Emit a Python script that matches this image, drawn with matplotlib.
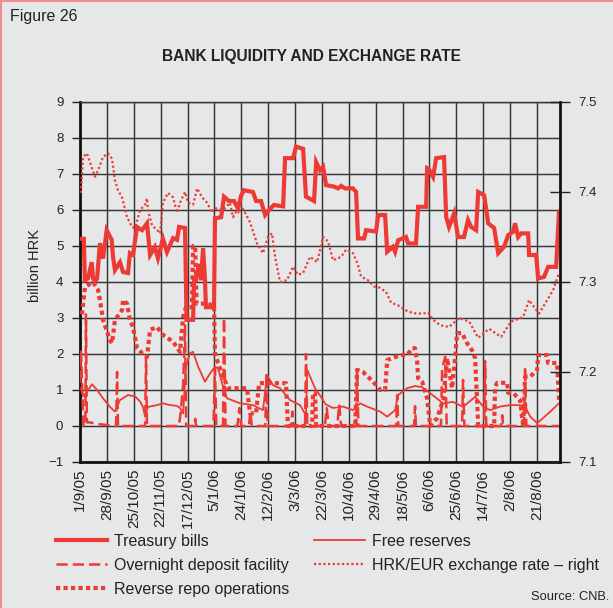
import matplotlib
matplotlib.use("Agg")
import matplotlib.pyplot as plt
from matplotlib.lines import Line2D

plt.rcParams['font.family'] = ['Liberation Sans', 'DejaVu Sans']

# ---------------- data (x = business-day index from 1/9/05) ----------------
tick_labels = ['1/9/05', '28/9/05', '25/10/05', '22/11/05', '17/12/05', '5/1/06',
               '24/1/06', '12/2/06', '3/3/06', '22/3/06', '10/4/06', '29/4/06',
               '18/5/06', '6/6/06', '25/6/06', '14/7/06', '2/8/06', '21/8/06']
tick_step = 14
n_days = 250

tb_x = [0, 2, 2.5, 4.2, 6.1, 6.8, 7.8, 8.9, 10.4, 12,
        13.9, 16.5, 17.2, 18.2, 20.8, 22.4, 25, 26, 27.6, 29.7,
        32.3, 34.9, 36.5, 39, 40.6, 43.2, 45.3, 48.5, 50.5, 51.6,
        54.7, 55.5, 58.9, 59.4, 60.4, 62, 63, 64.1, 65.1, 65.6,
        69.8, 70.3, 73.5, 75, 77.6, 80.2, 82.3, 83.9, 85.4, 90.1,
        91.7, 94.3, 96.4, 98.5, 101, 105.8, 106.8, 111, 112.5, 116.2,
        117.7, 121.9, 123, 125, 126.6, 128.2, 132.3, 134.4, 136, 138,
        142.2, 143.8, 144.8, 148, 149, 154.2, 155.3, 158.9, 160, 163,
        164.1, 165.7, 169.8, 170.9, 175, 176.1, 180.3, 180.8, 181.8, 183.9,
        185.5, 189.6, 190.7, 192.2, 194.9, 196.9, 200, 202.1, 203.7, 206.3,
        207.4, 210.5, 212.6, 215.7, 217.8, 220.9, 223, 225.6, 226.6, 228.2,
        229.8, 233.4, 233.9, 237.6, 238.6, 241.7, 243.8, 248, 249.5]
tb_y = [5.2, 5.2, 4.05, 4.1, 4.55, 4.1, 4.0, 4.1, 5.08, 4.65,
        5.44, 5.17, 4.7, 4.33, 4.55, 4.28, 4.25, 4.8, 4.75, 5.53,
        5.44, 5.63, 4.75, 4.97, 4.66, 5.2, 4.83, 5.22, 5.17, 5.53,
        5.5, 2.95, 2.95, 4.05, 4.1, 4.5, 4.05, 4.94, 4.05, 3.3,
        3.3, 5.77, 5.8, 6.37, 6.25, 6.25, 6.04, 6.4, 6.55, 6.5,
        6.25, 6.25, 5.86, 6.0, 6.14, 6.1, 7.44, 7.44, 7.76, 7.7,
        6.37, 6.25, 7.33, 7.1, 7.2, 6.69, 6.65, 6.6, 6.67, 6.6,
        6.6, 6.5, 5.21, 5.21, 5.44, 5.4, 5.86, 5.86, 4.84, 4.98,
        4.84, 5.16, 5.25, 5.07, 5.07, 6.09, 6.09, 7.16, 7.13, 6.92,
        7.44, 7.47, 5.81, 5.53, 5.91, 5.25, 5.25, 5.72, 5.53, 5.44,
        6.5, 6.41, 5.63, 5.5, 4.8, 4.98, 5.3, 5.4, 5.63, 5.25,
        5.35, 5.35, 4.75, 4.75, 4.1, 4.14, 4.42, 4.42, 5.95]

fr_x = [0.5, 1.6, 3.6, 6.3, 8.9, 12, 15.6, 18.2, 20.8, 25,
        28.7, 31.3, 32.8, 33.9, 35.4, 40.1, 43.2, 46.9, 50.5, 52.1,
        53.7, 55.2, 57.3, 58.9, 61.5, 65.1, 67.7, 70.3, 71.9, 74.5,
        76.6, 83.4, 90.1, 95.3, 97.4, 100.6, 104.2, 109.4, 114.6, 117.7,
        118.3, 122.4, 125, 128, 131.8, 137, 142.2, 145.9, 149.5, 156.3,
        160, 164.1, 165.7, 170.4, 174.5, 178.2, 182.4, 189.1, 194.3, 199.5,
        205.8, 210, 213.6, 218.8, 224, 229.2, 231.8, 234.5, 238.1, 241.2,
        244.9, 249.5]
fr_y = [1.05, 0.82, 0.95, 1.16, 1.0, 0.77, 0.53, 0.4, 0.72, 0.86,
        0.82, 0.68, 0.53, 0.26, 0.53, 0.58, 0.63, 0.58, 0.56, 0.5,
        0.35, 1.65, 2.02, 2.06, 1.65, 1.23, 1.46, 1.65, 1.6, 1.09,
        0.77, 0.63, 0.58, 0.44, 1.41, 1.13, 1.05, 0.72, 0.58, 0.3,
        1.56, 1.05, 0.85, 0.6, 0.5, 0.54, 0.44, 0.63, 0.54, 0.4,
        0.26, 0.44, 0.86, 1.05, 1.11, 1.08, 0.91, 0.63, 0.67, 0.53,
        0.81, 0.54, 0.44, 0.54, 0.58, 0.58, 0.54, 0.26, 0.08, 0.22,
        0.4, 0.63]

od_x = [0, 0.5, 1.2, 1.8, 2.8, 3.1, 3.6, 5, 10, 18.8,
        19.3, 19.8, 33.9, 34.4, 34.9, 51.5, 52.5, 53.7, 54.7, 55.3,
        59.5, 60, 60.5, 69.5, 70.3, 71, 74.5, 75, 75.8, 82,
        83, 84, 88, 88.7, 89.5, 96.5, 97.1, 97.7, 110, 110.6,
        111.2, 117.2, 117.7, 118.4, 127.5, 128.5, 129.5, 134, 135, 136,
        143.8, 144.3, 145, 164.7, 165.2, 165.8, 174, 174.5, 175, 188,
        188.6, 190.2, 191, 199, 199.5, 200.2, 210.5, 211, 211.6, 219.4,
        219.9, 220.4, 231.3, 231.8, 232.5, 249.5]
od_y = [1.2, 2.1, 1.0, 0, 0, 3.1, 0.1, 0.1, 0.05, 0,
        1.5, 0, 0, 1.9, 0, 0, 0.4, 1.14, 2.8, 0,
        0, 0.2, 0, 0, 1.6, 0, 0, 3.0, 0, 0,
        0.5, 0, 0, 0.4, 0, 0, 1.47, 0, 0, 0.4,
        0, 0, 2.0, 0, 0, 0.5, 0, 0, 0.6, 0,
        0, 1.56, 0, 0, 0.86, 0, 0, 0.55, 0, 0,
        1.6, 1.92, 0, 0, 1.28, 0, 0, 1.8, 0, 0,
        0.3, 0, 0, 1.65, 0, 0]

rr_x = [1, 2.6, 6.8, 9.4, 10.4, 12, 15.6, 16.7, 18.2, 21.9,
        22.4, 24.5, 26, 27.6, 29.7, 32.3, 34.9, 36.5, 40.1, 43.2,
        48.5, 52.1, 53.7, 55.2, 58.3, 58.9, 60, 60.7, 65.1, 69.8,
        70.3, 72.9, 77.1, 87, 87.5, 88.6, 91.7, 93.3, 107.3, 108.3,
        120.9, 121.4, 122.4, 123, 143.3, 144.3, 147.4, 152.7, 156.3, 158.9,
        160, 162.6, 166.7, 170.4, 173, 174.5, 175.6, 176.1, 178.2, 180.8,
        182.4, 186, 189.1, 191.2, 193.8, 195.4, 196.4, 199, 201.6, 204.2,
        205.8, 206.8, 207.4, 215.7, 216.2, 217.3, 222.5, 223, 225.6, 229.2,
        230.8, 231.8, 234.5, 238.1, 238.6, 243.3, 243.8, 248.5, 249.5]
rr_y = [3.1, 3.86, 4.0, 3.78, 3.5, 2.94, 2.39, 2.3, 2.94, 3.22,
        3.5, 3.4, 2.94, 2.75, 2.17, 2.02, 1.92, 2.67, 2.75, 2.53,
        2.34, 2.06, 3.03, 3.3, 3.3, 5.0, 5.0, 3.4, 3.4, 3.35,
        2.0, 1.6, 1.05, 1.05, 0.8, 0.35, 0.35, 1.19, 1.19, 0,
        0, 0.92, 0.92, 0, 0, 1.56, 1.5, 1.23, 1.0, 1.0,
        1.83, 1.88, 1.97, 1.97, 2.16, 2.16, 1.78, 1.33, 1.23, 0.77,
        0, 0.22, 0.72, 1.88, 1.05, 1.9, 2.58, 2.58, 2.3, 2.1,
        1.88, 0.72, 0, 0, 1.09, 1.2, 1.2, 0.92, 0.92, 0.72,
        0, 1.37, 1.37, 1.56, 1.97, 1.97, 1.75, 1.75, 0.72]

eur_x = [0.4, 1.6, 3.6, 5.7, 7.8, 9.4, 12, 14.6, 16.7, 18.2,
         19.8, 21.9, 24.5, 27.1, 28.7, 31.3, 33.9, 34.9, 35.4, 37.5,
         40.1, 41.7, 43.2, 45.8, 48.5, 50.5, 52.1, 54.7, 56.3, 58.9,
         61, 63.6, 66.2, 68.8, 70.3, 74.5, 78.1, 79.7, 83.4, 86,
         88.6, 92.2, 95.3, 97.9, 100, 101.6, 104.2, 107.8, 111, 113.6,
         116.2, 119.8, 123.5, 126.6, 129.2, 131.8, 136, 138.6, 142.2, 144.8,
         146.4, 150, 153.2, 155.8, 159.4, 162, 165.7, 168.8, 170.9, 175,
         178.7, 181.3, 183.9, 187.6, 192.2, 197.5, 202.7, 207.4, 213.1, 219.3,
         224.5, 230.8, 233.9, 237.6, 239.1, 242.8, 246.4, 249.6]
eur_y = [7.399, 7.439, 7.443, 7.43, 7.417, 7.424, 7.439, 7.443, 7.437, 7.413,
         7.402, 7.394, 7.372, 7.361, 7.36, 7.38, 7.386, 7.393, 7.38, 7.363,
         7.358, 7.354, 7.388, 7.399, 7.394, 7.377, 7.388, 7.4, 7.388, 7.386,
         7.404, 7.394, 7.388, 7.377, 7.382, 7.38, 7.388, 7.372, 7.386, 7.377,
         7.366, 7.343, 7.332, 7.35, 7.354, 7.328, 7.3, 7.302, 7.317, 7.308,
         7.31, 7.328, 7.322, 7.35, 7.345, 7.324, 7.328, 7.336, 7.332, 7.319,
         7.306, 7.302, 7.295, 7.294, 7.289, 7.277, 7.274, 7.27, 7.267, 7.265,
         7.265, 7.266, 7.258, 7.252, 7.25, 7.26, 7.256, 7.238, 7.248, 7.239,
         7.256, 7.261, 7.28, 7.269, 7.265, 7.278, 7.291, 7.311]

left_ticks = [-1, 0, 1, 2, 3, 4, 5, 6, 7, 8, 9]
right_ticks = [7.1, 7.2, 7.3, 7.4, 7.5]

# ---------------- styling ----------------
RED = '#ee3a34'
BG = '#e6e7e8'
GRID = '#363636'
TXT = '#222222'

fig = plt.figure(figsize=(6.13, 6.08), dpi=100, facecolor=BG)
ax = fig.add_axes([80/613, 1-462/608, 480/613, 360/608])
ax.set_facecolor(BG)

ax.set_xlim(0, n_days)
ax.set_ylim(-1, 9)
xt = [i*tick_step for i in range(len(tick_labels))]
ax.set_xticks(xt)
ax.set_xticklabels(tick_labels, rotation=90, fontsize=11, color=TXT)
ax.set_yticks(left_ticks)
ax.set_yticklabels(['\u22121' if v == -1 else str(v) for v in left_ticks],
                   fontsize=9.5, color=TXT)
ax.tick_params(axis='x', length=0, pad=5)
ax.tick_params(axis='y', direction='out', length=6, width=1, pad=6, color=TXT)
ax.grid(True, color=GRID, lw=1.05)
ax.set_axisbelow(True)
for s in ['left', 'bottom']:
    ax.spines[s].set_linewidth(2.0)
    ax.spines[s].set_color('#111111')
ax.spines['top'].set_linewidth(1.05)
ax.spines['top'].set_color(GRID)
ax.spines['right'].set_visible(False)

# series
ax.plot(fr_x, fr_y, color=RED, lw=1.3, zorder=3)
ax.plot(od_x, od_y, color=RED, lw=1.8, ls=(0, (4.5, 2)), zorder=3)
ax.plot(rr_x, rr_y, color=RED, lw=3.0, ls=(0, (1, 0.8)), dash_capstyle='butt', zorder=4)
ax.plot(tb_x, tb_y, color=RED, lw=3.0, zorder=5, solid_joinstyle='miter')

ax2 = ax.twinx()
ax2.set_ylim(7.1, 7.5)
ax2.set_yticks(right_ticks)
ax2.set_yticklabels([f'{v:.1f}' for v in right_ticks], fontsize=9.5, color=TXT)
ax2.tick_params(axis='y', direction='inout', length=14, width=1, pad=6, color=TXT)
ax2.plot(eur_x, eur_y, color=RED, lw=1.6, ls=(0, (1, 1.1)), zorder=3)
for s in ['left', 'bottom', 'top']:
    ax2.spines[s].set_visible(False)
ax2.spines['right'].set_linewidth(2.0)
ax2.spines['right'].set_color('#111111')

# texts
fig.text(35/613, 1-265/608, 'billion HRK', fontsize=10.5, rotation=90,
         va='center', ha='center', color=TXT)
fig.text(10/613, 1-17/608, 'Figure 26', fontsize=11.5, va='center', ha='left', color=TXT)
fig.text(311/613, 1-56/608, 'BANK LIQUIDITY AND EXCHANGE RATE', fontsize=11.2,
         fontweight='bold', va='center', ha='center', color=TXT)
fig.text(609/613, 1-597/608, 'Source: CNB.', fontsize=9.3, va='center', ha='right', color=TXT)

# legend
handles = [
    Line2D([], [], color=RED, lw=3.0),
    Line2D([], [], color=RED, lw=1.8, ls=(0, (4.5, 2))),
    Line2D([], [], color=RED, lw=3.0, ls=(0, (1, 0.8)), dash_capstyle='butt'),
    Line2D([], [], color=RED, lw=1.3),
    Line2D([], [], color=RED, lw=1.6, ls=(0, (1, 1.1))),
]
labels = ['Treasury bills', 'Overnight deposit facility', 'Reverse repo operations',
          'Free reserves', 'HRK/EUR exchange rate \u2013 right']
fig.legend(handles, labels, loc='upper left', bbox_to_anchor=(56/613, 1-534/608),
           ncol=2, frameon=False, fontsize=11.5, handlelength=3.2, handletextpad=0.4,
           columnspacing=1.6, labelspacing=0.56, borderpad=0, borderaxespad=0,
           labelcolor=TXT)

# pinkish border on top and left
fig.add_artist(Line2D([0, 1], [0.999, 0.999], transform=fig.transFigure, color='#f08c8c', lw=1.5))
fig.add_artist(Line2D([0.001, 0.001], [0, 1], transform=fig.transFigure, color='#f08c8c', lw=1.5))

fig.savefig('out.png', dpi=100, facecolor=BG)
